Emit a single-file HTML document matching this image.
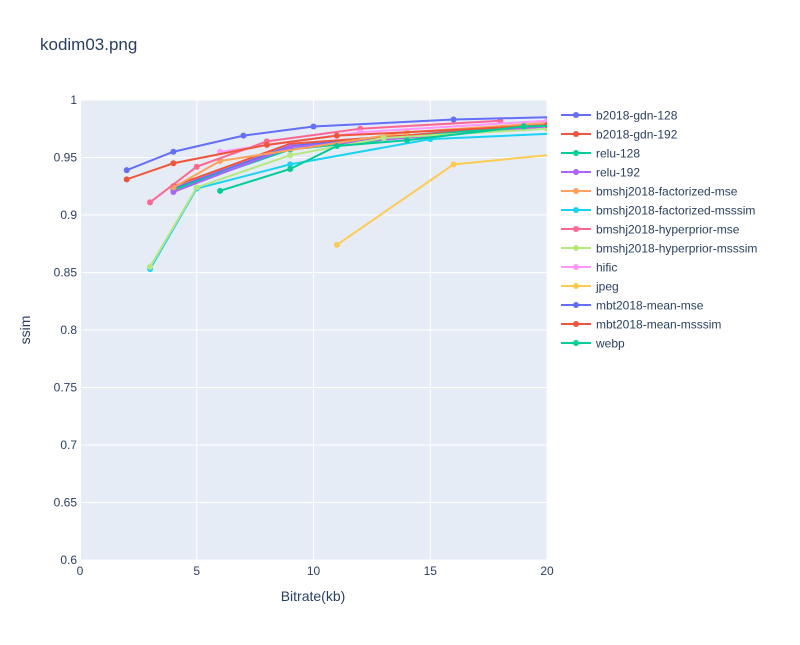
<!DOCTYPE html>
<html><head><meta charset="utf-8">
<style>
body{margin:0;background:#fff;font-family:"Liberation Sans",sans-serif;}
svg text{font-family:"Liberation Sans",sans-serif;fill:#2a3f5f;}
</style></head><body>
<svg id="chart" width="800" height="640">
<text x="40" y="50" font-size="17">kodim03.png</text>
<rect x="80" y="100" width="467" height="460" fill="#e5ecf6"/>
<g id="grid"></g>
<defs><clipPath id="clip"><rect x="80" y="95" width="467" height="470"/></clipPath></defs>
<g id="series" clip-path="url(#clip)"></g>
<g id="legend"></g>
<text x="313" y="601" font-size="14" text-anchor="middle">Bitrate(kb)</text>
<text x="30" y="330" font-size="14" text-anchor="middle" transform="rotate(-90 30 330)">ssim</text>
</svg>
<script>
const xTicks=[0,5,10,15,20];
const yTicks=[0.6,0.65,0.7,0.75,0.8,0.85,0.9,0.95,1];
const yTickLabels=["0.6","0.65","0.7","0.75","0.8","0.85","0.9","0.95","1"];
const seriesNames=["b2018-gdn-128","b2018-gdn-192","relu-128","relu-192","bmshj2018-factorized-mse","bmshj2018-factorized-msssim","bmshj2018-hyperprior-mse","bmshj2018-hyperprior-msssim","hific","jpeg","mbt2018-mean-mse","mbt2018-mean-msssim","webp"];
const colors=["#636efa","#EF553B","#00cc96","#ab63fa","#FFA15A","#19d3f3","#FF6692","#B6E880","#FF97FF","#FECB52","#636efa","#EF553B","#00cc96"];
const xs0=[4,9,20],ys0=[0.923,0.960,0.980];
const xs1=[4,9,20],ys1=[0.925,0.962,0.978];
const xs2=[4,9,19],ys2=[0.922,0.957,0.978];
const xs3=[4,9,20],ys3=[0.920,0.959,0.977];
const xs4=[4,6,14,20],ys4=[0.924,0.947,0.972,0.980];
const xs5=[3,5,9,15,25],ys5=[0.853,0.923,0.944,0.966,0.975];
const xs6=[3,5,8,12,18],ys6=[0.911,0.942,0.964,0.975,0.982];
const xs7=[3,5,9,13,20],ys7=[0.855,0.924,0.952,0.967,0.975];
const xs8=[6,12,20],ys8=[0.955,0.972,0.982];
const xs9=[11,16,24],ys9=[0.874,0.944,0.960];
const xs10=[2,4,7,10,16,22],ys10=[0.939,0.955,0.969,0.977,0.983,0.986];
const xs11=[2,4,8,11,20],ys11=[0.931,0.945,0.961,0.969,0.978];
const xs12=[6,9,11,14,19,25],ys12=[0.921,0.940,0.960,0.965,0.977,0.980];
const allX=[xs0,xs1,xs2,xs3,xs4,xs5,xs6,xs7,xs8,xs9,xs10,xs11,xs12];
const allY=[ys0,ys1,ys2,ys3,ys4,ys5,ys6,ys7,ys8,ys9,ys10,ys11,ys12];
const NS="http://www.w3.org/2000/svg";
const X=v=>80+v*(467/20), Y=v=>560-(v-0.6)*(460/0.4);
function mk(t,a,p){const e=document.createElementNS(NS,t);for(const k in a)e.setAttribute(k,a[k]);p.appendChild(e);return e;}
const grid=document.getElementById('grid');
xTicks.forEach((t,i)=>{
 const l=mk('line',{x1:X(t),x2:X(t),y1:100,y2:560,stroke:'#fff','stroke-width':t===0?2:1},grid);
 
 
 const tx=mk('text',{x:X(t),y:575,'font-size':12,'text-anchor':'middle'},grid);tx.textContent=t;
 
 
});
yTicks.forEach((t,i)=>{
 const l=mk('line',{x1:80,x2:547,y1:Y(t),y2:Y(t),stroke:'#fff','stroke-width':1},grid);
 
 
 const tx=mk('text',{x:77,y:Y(t)+4,'font-size':12,'text-anchor':'end'},grid);tx.textContent=yTickLabels[i];
 
 
});
const sg=document.getElementById('series'), lg=document.getElementById('legend');
seriesNames.forEach((n,i)=>{
 const g=mk('g',{},sg);
 
 
 const pts=allX[i].map((x,j)=>X(x)+','+Y(allY[i][j])).join(' ');
 mk('polyline',{points:pts,fill:'none',stroke:colors[i],'stroke-width':2},g);
 allX[i].forEach((x,j)=>{
  const c=mk('circle',{cx:X(x),cy:Y(allY[i][j]),r:3,fill:colors[i]},g);
  
  
 });
 const y=115+i*19;
 const le=mk('g',{},lg);
 
 
 mk('line',{x1:561,x2:591,y1:y,y2:y,stroke:colors[i],'stroke-width':2},le);
 mk('circle',{cx:576,cy:y,r:3,fill:colors[i]},le);
 const t=mk('text',{x:596,y:y+4.5,'font-size':12},le);t.textContent=n;
});
</script>
</body></html>
